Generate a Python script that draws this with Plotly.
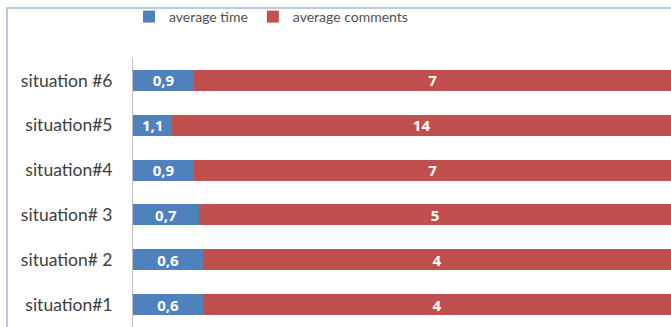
import plotly.graph_objects as go

categories = ["situation#1", "situation# 2", "situation# 3", "situation#4", "situation#5", "situation #6"]
average_time = [0.6, 0.6, 0.7, 0.9, 1.1, 0.9]
average_comments = [4, 4, 5, 7, 14, 7]

def fmt(v):
    return f"{v:g}".replace(".", ",")

FONT = "Lato"
LBL = dict(color="white", size=15, family="Open Sans", weight="bold")
fig = go.Figure()
fig.add_trace(go.Bar(
    y=categories, x=average_time, orientation="h", name="average time",
    marker=dict(color="#4F81BD", line=dict(width=0)),
    text=[fmt(v) for v in average_time], textposition="inside", insidetextanchor="middle",
    textangle=0, textfont=LBL,
))
fig.add_trace(go.Bar(
    y=categories, x=average_comments, orientation="h", name="average comments",
    marker=dict(color="#C0504D", line=dict(width=0)),
    text=[fmt(v) for v in average_comments], textposition="inside", insidetextanchor="middle",
    textangle=0, textfont=LBL,
))

W, H = 671, 327
ml, mr, mt, mb = 133, 0, 58, 0
pw, ph = W - ml - mr, H - mt - mb

fig.update_layout(
    width=W, height=H, barmode="stack", barnorm="percent", bargap=0.53,
    margin=dict(l=ml, r=mr, t=mt, b=mb, autoexpand=False),
    paper_bgcolor="white", plot_bgcolor="white",
    font=dict(family=FONT, size=14, color="#404040"),
    uniformtext=dict(mode="show", minsize=15),
    showlegend=True,
    legend=dict(orientation="h", x=(129 - ml) / pw, xanchor="left",
                y=1 + (mt - 17) / ph, yanchor="middle",
                font=dict(size=14, color="#505050"), traceorder="normal",
                bgcolor="rgba(0,0,0,0)"),
    xaxis=dict(range=[0, 100], visible=False, fixedrange=True),
    yaxis=dict(showline=True, linecolor="#BFBFBF", linewidth=1, showgrid=False, automargin=False,
               ticks="", ticklabelstandoff=16, tickfont=dict(size=17.5, color="#404040")),
    shapes=[dict(type="rect", xref="paper", yref="paper",
                 x0=(7 - ml) / pw, x1=(W + 20 - ml) / pw,
                 y0=-0.1, y1=1 + (mt - 8) / ph,
                 line=dict(color="#B8CCE4", width=2), fillcolor="rgba(0,0,0,0)", layer="below")],
)
fig.write_html("out.html", config={"displayModeBar": False},
               post_script="document.body.style.margin='0px';document.body.style.overflow='hidden';")
